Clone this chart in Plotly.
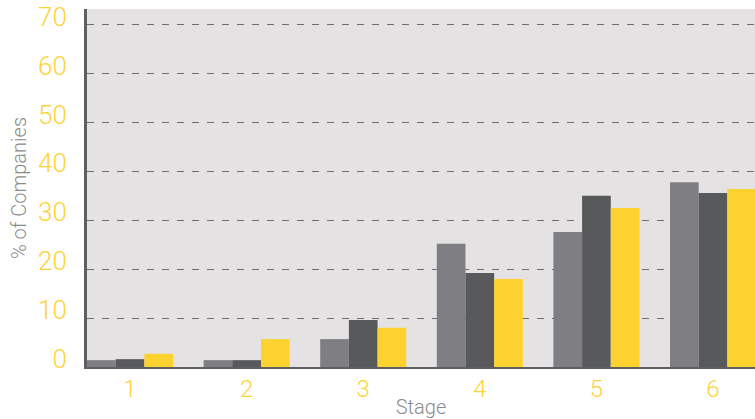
import plotly.graph_objects as go

# Share of companies at each stage, three survey groups
stages = ["1", "2", "3", "4", "5", "6"]
group_a = [1.4, 1.4, 5.7, 25.2, 27.6, 37.8]
group_b = [1.6, 1.4, 9.6, 19.2, 35.0, 35.6]
group_c = [2.7, 5.7, 8.0, 18.0, 32.5, 36.4]
y_ticks = [0, 10, 20, 30, 40, 50, 60, 70]

colors = ["#7f7e82", "#58595b", "#fdd22f"]
x_pos = [int(s) for s in stages]

fig = go.Figure()
for vals, col, name in zip([group_a, group_b, group_c], colors, ["A", "B", "C"]):
    fig.add_trace(go.Bar(x=x_pos, y=vals, name=name, marker=dict(color=col, line=dict(width=0))))

font_family = "Roboto"
yellow = "#fed23a"
grey_text = "#8b8b8b"

fig.update_layout(
    width=755, height=419,
    margin=dict(l=87, r=0, t=9, b=52, autoexpand=False),
    paper_bgcolor="white",
    plot_bgcolor="#e4e2e3",
    barmode="group",
    bargap=0.262,
    bargroupgap=0,
    showlegend=False,
    font=dict(family=font_family, weight=300),
    xaxis=dict(
        range=[0.631, 6.36],
        tickmode="array", tickvals=x_pos, ticktext=stages,
        tickfont=dict(size=24, color=yellow, family=font_family, weight=300),
        showgrid=False, zeroline=False, automargin=False,
        showline=True, linecolor="#5f5f61", linewidth=2,
        ticks="", ticklabelstandoff=-1,
        title=dict(text="Stage", font=dict(size=20, color=grey_text, family=font_family, weight=300), standoff=6),
    ),
    yaxis=dict(
        range=[0, 73.2],
        tickmode="array", tickvals=y_ticks,
        tickfont=dict(size=26, color=yellow, family=font_family, weight=300),
        showgrid=True, gridcolor="#6e6e70", gridwidth=1.3, griddash="7px,8px",
        zeroline=False, automargin=False,
        showline=True, linecolor="#5f5f61", linewidth=3,
        ticks="", ticklabelstandoff=12, ticklabelshift=-8,
        title=dict(text="% of Companies", font=dict(size=20, color=grey_text, family=font_family, weight=300), standoff=6),
    ),
)

fig.write_html("out.html")
